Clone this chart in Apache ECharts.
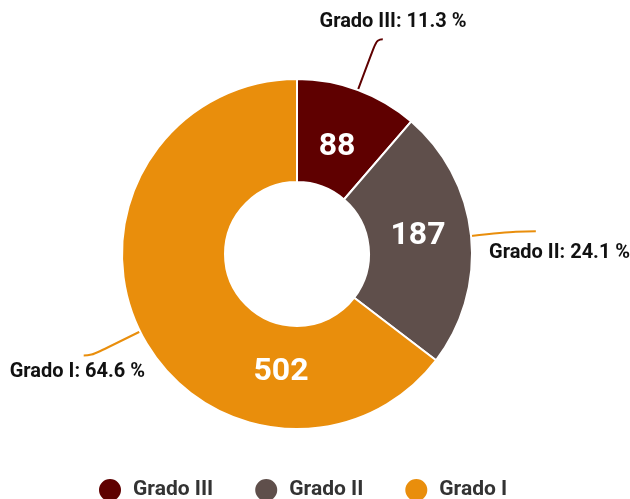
<!DOCTYPE html>
<html>
<head>
<meta charset="utf-8">
<script src="https://cdn.jsdelivr.net/npm/echarts@6/dist/echarts.min.js"></script>
<style>
  html, body {margin: 0; padding: 0; background: #fff;}
  #chart {width: 630px; height: 499px;}
</style>
</head>
<body>
<div id="chart"></div>
<script>
const names = ['Grado III', 'Grado II', 'Grado I'];
const values = [88, 187, 502];
const colors = ['#5f0000', '#5f4f4b', '#e98e0c'];
const lineColors = ['#5f0000', '#e98e0c', '#e98e0c'];

// where the labels sit
const innerPos = [[337, 147], [418, 236], [281, 372]];
const outerPos = [
  {x: 393, y: 22, align: 'center'},
  {x: 489, y: 253, align: 'left'},
  {x: 145, y: 372, align: 'right'}
];
const lineLen = [[54, 6], [45, 20], [54, 8]];

const myChart = echarts.init(document.getElementById('chart'));

myChart.setOption({
  animation: false,
  color: colors,
  legend: {
    top: 472,
    left: 92,
    icon: 'circle',
    itemWidth: 24,
    itemHeight: 24,
    itemGap: 40,
    data: names,
    textStyle: {
      fontFamily: 'Roboto',
      fontSize: 21,
      fontWeight: 'bold',
      color: '#333',
      padding: [0, 0, 0, 6]
    }
  },
  series: [{
    type: 'pie',
    center: [297, 254],
    radius: [72, 175],
    startAngle: 90,
    itemStyle: {borderColor: '#fff', borderWidth: 2},
    label: {
      position: 'inside',
      formatter: '{c}',
      color: '#fff',
      fontFamily: 'Roboto',
      fontSize: 32,
      fontWeight: 'bold'
    },
    labelLayout(params) {
      const p = innerPos[params.dataIndex];
      return {x: p[0], y: p[1], align: 'center', verticalAlign: 'middle'};
    },
    emphasis: {disabled: true},
    data: names.map((n, i) => ({name: n, value: values[i]}))
  }, {
    type: 'pie',
    center: [297, 254],
    radius: [72, 175],
    startAngle: 90,
    silent: true,
    percentPrecision: 1,
    itemStyle: {color: 'transparent', borderWidth: 0},
    label: {
      formatter: '{b}: {d} %',
      color: '#111',
      fontFamily: 'Roboto',
      fontSize: 20,
      fontWeight: 'bold',
      overflow: 'none'
    },
    labelLayout(params) {
      const p = outerPos[params.dataIndex];
      return {
        x: p.x, y: p.y, align: p.align, verticalAlign: 'middle',
        labelLinePoints: params.labelLinePoints
      };
    },
    emphasis: {disabled: true},
    data: names.map((n, i) => ({
      name: n,
      value: values[i],
      labelLine: {
        length: lineLen[i][0],
        length2: lineLen[i][1],
        smooth: 0.5,
        lineStyle: {color: lineColors[i], width: 2, opacity: 1}
      }
    }))
  }]
});
</script>
</body>
</html>
